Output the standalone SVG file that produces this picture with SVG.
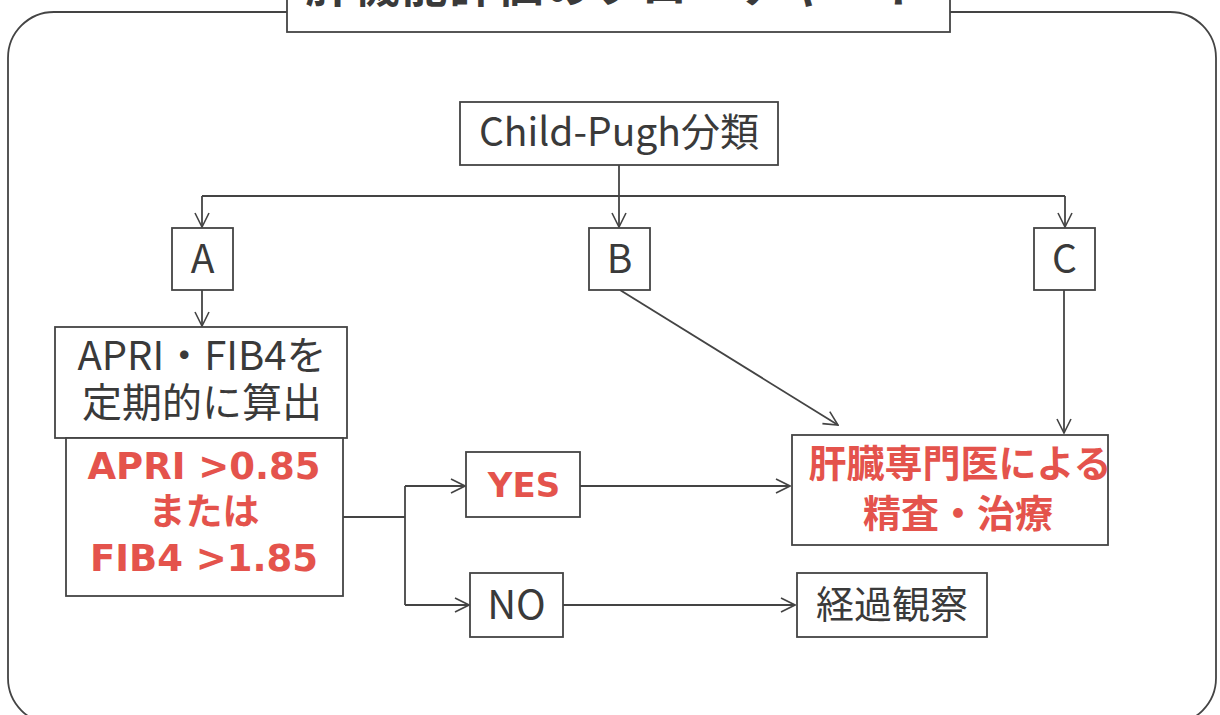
<svg xmlns="http://www.w3.org/2000/svg" width="1220" height="715" viewBox="0 0 1220 715">
<defs>
<marker id="arr" markerUnits="userSpaceOnUse" markerWidth="16" markerHeight="16" viewBox="0 0 16 16" refX="15" refY="8" orient="auto">
<path d="M1,1 L15,8 L1,15" fill="none" stroke="#444" stroke-width="1.6"/>
</marker>
<style>
.box{fill:#fff;stroke:#444;stroke-width:1.8}
.t{font-family:"Noto Sans CJK JP","Liberation Sans",sans-serif;fill:#3a3a3a;text-anchor:middle}
.r{font-family:"DejaVu Sans","Noto Sans CJK JP",sans-serif;fill:#e4534c;font-weight:bold;text-anchor:middle}
.c{fill:none;stroke:#444;stroke-width:1.8}
</style>
</defs>
<rect width="1220" height="715" fill="#fff"/>
<rect x="8" y="12" width="1208" height="712" rx="46" ry="46" fill="none" stroke="#444" stroke-width="1.8"/>
<g id="title">
<rect class="box" x="287" y="-20" width="663" height="52"/>
<text class="t" x="617" y="2" font-size="46" font-weight="bold" letter-spacing="2">肝機能評価のフローチャート</text>
</g>
<g id="connectors">
<path class="c" d="M619,165 V196"/>
<path class="c" d="M202,196 H1065"/>
<path class="c" d="M202,196 V227" marker-end="url(#arr)"/>
<path class="c" d="M619,196 V227" marker-end="url(#arr)"/>
<path class="c" d="M1065,196 V227" marker-end="url(#arr)"/>
<path class="c" d="M202,290 V326" marker-end="url(#arr)"/>
<path class="c" d="M620,290 L838,425" marker-end="url(#arr)"/>
<path class="c" d="M1064,290 V433" marker-end="url(#arr)"/>
<path class="c" d="M343,517 H405"/>
<path class="c" d="M405,486 V605"/>
<path class="c" d="M405,486 H465" marker-end="url(#arr)"/>
<path class="c" d="M405,605 H469" marker-end="url(#arr)"/>
<path class="c" d="M580,486 H790" marker-end="url(#arr)"/>
<path class="c" d="M563,605 H795" marker-end="url(#arr)"/>
</g>
<g id="childpugh">
<rect class="box" x="460" y="102" width="318" height="63"/>
<text class="t" x="619" y="146" font-size="39">Child-Pugh分類</text>
</g>
<g id="A">
<rect class="box" x="172" y="228" width="61" height="62"/>
<text class="t" x="202.5" y="273" font-size="39">A</text>
</g>
<g id="B">
<rect class="box" x="589" y="228" width="61" height="62"/>
<text class="t" x="619.5" y="273" font-size="39">B</text>
</g>
<g id="C">
<rect class="box" x="1034" y="228" width="61" height="62"/>
<text class="t" x="1064.5" y="273" font-size="39">C</text>
</g>
<g id="calc">
<rect class="box" x="55" y="327" width="292" height="111"/>
<text class="t" x="202" y="370" font-size="40">APRI・FIB4を</text>
<text class="t" x="202" y="417" font-size="40">定期的に算出</text>
</g>
<g id="criteria">
<rect class="box" x="66" y="438" width="277" height="158"/>
<text class="r" x="204" y="479" font-size="37">APRI &gt;0.85</text>
<text class="r" x="204" y="525" font-size="37">または</text>
<text class="r" x="204" y="571" font-size="37">FIB4 &gt;1.85</text>
</g>
<g id="yes">
<rect class="box" x="466" y="452" width="114" height="65"/>
<text class="r" x="524" y="497" font-size="34">YES</text>
</g>
<g id="no">
<rect class="box" x="470" y="573" width="93" height="64"/>
<text class="t" x="516.5" y="619" font-size="40">NO</text>
</g>
<g id="specialist">
<rect class="box" x="792" y="435" width="316" height="110"/>
<text class="r" x="960" y="477" font-size="38">肝臓専門医による</text>
<text class="r" x="958" y="527" font-size="38">精査・治療</text>
</g>
<g id="observe">
<rect class="box" x="797" y="573" width="190" height="64"/>
<text class="t" x="892" y="618" font-size="38">経過観察</text>
</g>
</svg>
